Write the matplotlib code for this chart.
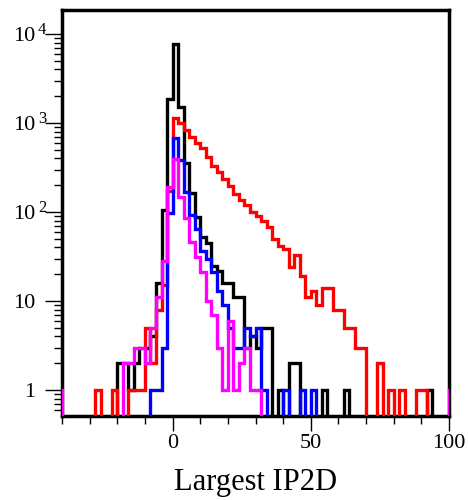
import matplotlib
matplotlib.use('Agg')
import matplotlib.pyplot as plt
import matplotlib.transforms as mtransforms
from matplotlib.ticker import LogLocator, MultipleLocator, NullFormatter
import numpy as np

plt.rcParams['font.family'] = ['Liberation Serif', 'DejaVu Serif']

# bins of width 2, from -42 to 102 (first and last bin are outside the visible range)
bin_edges = np.arange(-42, 104, 2)

# counts per bin, 12 bins per row
black = [0, 0, 0, 0, 0, 0, 0, 0, 0, 0, 0, 2,
         2, 1, 2, 3, 3, 4, 16, 105, 1860, 7750, 1520, 352,
         165, 88, 52, 45, 25, 22, 16, 16, 11, 11, 3, 4,
         3, 5, 5, 0, 1, 0, 2, 2, 0, 0, 0, 0,
         1, 0, 0, 0, 1, 0, 0, 0, 0, 0, 0, 0,
         0, 0, 0, 0, 0, 0, 0, 1, 0, 0, 0, 0]

red = [0, 0, 0, 0, 0, 0, 0, 1, 0, 0, 1, 0,
       0, 1, 1, 1, 5, 2, 8, 15, 170, 1140, 1000, 830,
       700, 600, 525, 415, 330, 280, 235, 195, 160, 135, 120, 100,
       90, 80, 68, 50, 41, 38, 24, 33, 19, 11, 13, 9,
       14, 14, 8, 8, 5, 5, 3, 3, 0, 0, 2, 0,
       1, 0, 1, 0, 0, 1, 1, 0, 0, 0, 0, 0]

blue = [0, 0, 0, 0, 0, 0, 0, 0, 0, 0, 0, 0,
        0, 0, 0, 0, 0, 1, 1, 3, 97, 670, 384, 169,
        92, 65, 36, 30, 21, 13, 9, 5, 3, 3, 5, 4,
        5, 1, 0, 0, 0, 1, 0, 0, 1, 0, 1, 0,
        0, 0, 0, 0, 0, 0, 0, 0, 0, 0, 0, 0,
        0, 0, 0, 0, 0, 0, 0, 0, 0, 0, 0, 0]

magenta = [1, 0, 0, 0, 0, 0, 0, 0, 0, 0, 0, 0,
           2, 2, 3, 3, 2, 5, 11, 28, 192, 395, 146, 86,
           46, 31, 21, 10, 7, 3, 1, 6, 1, 2, 3, 1,
           1, 0, 0, 0, 0, 0, 0, 0, 0, 0, 0, 0,
           0, 0, 0, 0, 0, 0, 0, 0, 0, 0, 0, 0,
           0, 0, 0, 0, 0, 0, 0, 0, 0, 0, 0, 1]

y_ticks = [1, 10, 100, 1000, 10000]
y_ticklabels = ['1', '10', '10', '10', '10']
y_exponents = ['', '', '2', '3', '4']
x_ticks = [0, 50, 100]

fig = plt.figure(figsize=(4.68, 5.0), dpi=100)
ax = fig.add_axes([0.1325, 0.168, 0.8269, 0.812])

floor = 0.1  # below the visible range, stands in for empty bins on the log axis
for vals, col in [(black, 'black'), (red, 'red'), (blue, 'blue'), (magenta, 'magenta')]:
    v = np.array(vals, dtype=float)
    v[v <= 0] = floor
    ax.stairs(v, bin_edges, baseline=floor, color=col, lw=2.4, zorder=3)

ax.set_yscale('log')
ax.set_xlim(-40, 100)
ax.set_ylim(0.51, 18600)

ax.set_yticks(y_ticks)
ax.set_yticklabels(y_ticklabels)
ax.yaxis.set_minor_locator(LogLocator(base=10, subs=np.arange(2, 10)))
ax.yaxis.set_minor_formatter(NullFormatter())
ax.set_xticks(x_ticks)
ax.xaxis.set_minor_locator(MultipleLocator(10))

ax.tick_params(which='both', direction='out', top=False, right=False, color='black')
ax.tick_params(axis='y', which='major', length=12.5, width=1, pad=7, labelsize=16)
ax.tick_params(axis='y', which='minor', length=6, width=1)
ax.tick_params(axis='x', which='major', length=11, width=1, pad=2, labelsize=16)
ax.tick_params(axis='x', which='minor', length=5.5, width=1)

for s in ax.spines.values():
    s.set_linewidth(2.5)

# exponents of the 10^n labels, raised next to the tick
trans = mtransforms.blended_transform_factory(ax.transAxes, ax.transData)
for yt, ex in zip(y_ticks, y_exponents):
    if ex:
        ax.text(-0.062, yt, ex, transform=trans, fontsize=12, ha='left', va='baseline')

ax.set_xlabel('Largest IP2D', fontsize=22, labelpad=11)

fig.savefig('out.png', dpi=100)
